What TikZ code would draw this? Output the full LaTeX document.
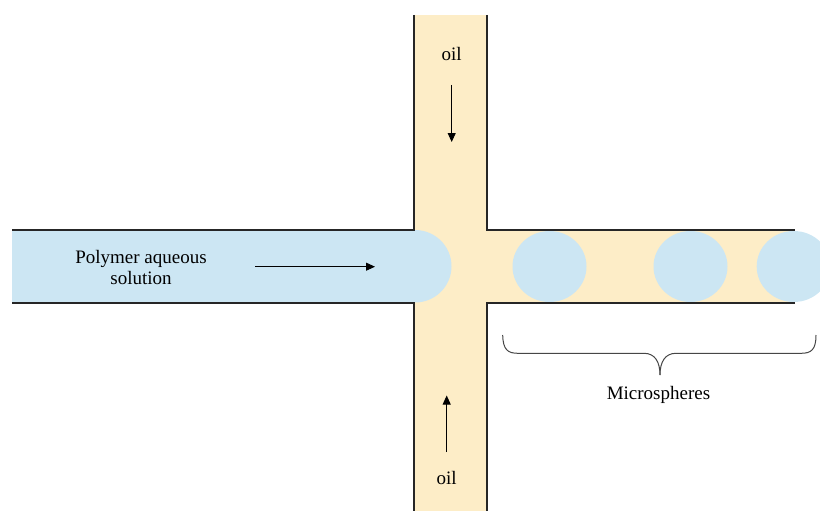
\documentclass[tikz,border=0pt]{standalone}
\usepackage{fontspec}
\setmainfont{Liberation Serif}
\usetikzlibrary{arrows.meta}
\definecolor{oilfill}{RGB}{253,237,199}
\definecolor{waterfill}{RGB}{204,230,243}
\definecolor{wallgray}{RGB}{38,38,38}
\definecolor{bracegray}{RGB}{70,70,70}
\tikzset{
  wallline/.style={draw=wallgray, line width=2pt},
  flowarrow/.style={-{Triangle[length=9pt,width=8pt]}, line width=0.9pt, black},
  lbl/.style={font=\fontsize{19}{21.3}\selectfont, align=center, inner sep=0pt},
  bracestroke/.style={draw=bracegray, line width=1pt},
}
\begin{document}
\begin{tikzpicture}[x=1pt,y=-1pt]
\useasboundingbox (0,0) rectangle (820,511);
\clip (0,0) rectangle (820,511);

% oil-filled channels
\fill[oilfill] (414,15) rectangle (487,511);
\fill[oilfill] (414,230) rectangle (795,302.5);

% aqueous phase entering with a rounded front
\fill[waterfill] (12,230) rectangle (415,302.5);
\fill[waterfill] (415,266.25) ellipse [x radius=36.5, y radius=36.25];

% droplets in the outlet channel
\foreach \cx in {549.5,690.5,793.7}
  \fill[waterfill] (\cx,266.5) ellipse [x radius=37, y radius=35.5];

% channel walls
\draw[wallline] (414,15) -- (414,230) -- (12,230);
\draw[wallline] (12,302.5) -- (414,302.5) -- (414,511);
\draw[wallline] (487,15) -- (487,230) -- (795,230);
\draw[wallline] (795,302.5) -- (487,302.5) -- (487,511);

% labels
\node[lbl] (oiltop) at (451.7,54) {oil};
\node[lbl] (oilbot) at (446.7,477.5) {oil};
\node[lbl] (polymer) at (141,267.3) {Polymer aqueous\\solution};
\node[lbl] (micro) at (658.5,394.5) {Microspheres};

% flow arrows
\coordinate (topa) at (451.7,85);
\coordinate (topb) at (451.7,142);
\coordinate (bota) at (446.7,452);
\coordinate (botb) at (446.7,395.5);
\coordinate (leftA) at (255,266.7);
\coordinate (leftB) at (375,266.7);
\draw[flowarrow] (topa) -- (topb);
\draw[flowarrow] (bota) -- (botb);
\draw[flowarrow] (leftA) -- (leftB);

% brace under the droplets
\coordinate (brL) at (502.7,335);
\coordinate (brR) at (816,335);
\coordinate (brTip) at (660,375);
\draw[bracestroke] (brL) .. controls (503,350) and (508,353.3) .. (518,353.3)
  -- (644,353.3) .. controls (655,353.3) and (660,362) .. (brTip);
\draw[bracestroke] (brR) .. controls (816,350) and (811,353.3) .. (801,353.3)
  -- (676,353.3) .. controls (665,353.3) and (660,362) .. (brTip);
\end{tikzpicture}
\end{document}
